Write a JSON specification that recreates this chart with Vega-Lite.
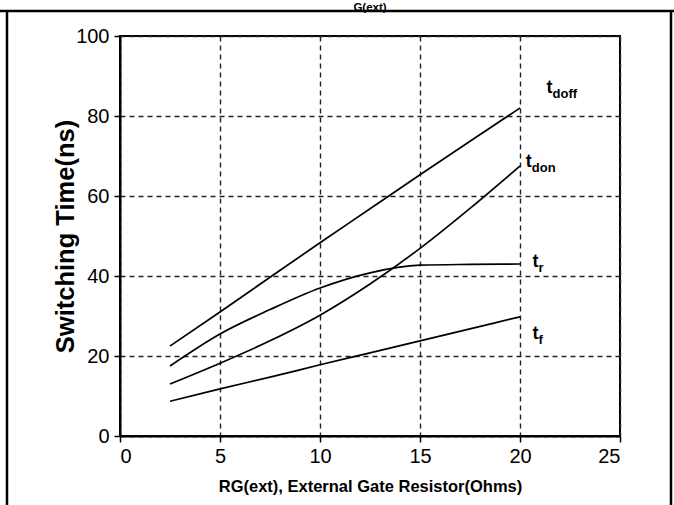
{
  "$schema": "https://vega.github.io/schema/vega-lite/v6.json",
  "width": 500,
  "height": 400,
  "autosize": {"type": "none"},
  "padding": {"left": 120, "top": 36, "right": 54, "bottom": 69},
  "background": "white",
  "title": {
    "text": "G(ext)",
    "anchor": "middle",
    "frame": "group",
    "baseline": "alphabetic",
    "offset": 1,
    "dy": 14,
    "font": "Liberation Sans, Arial",
    "fontSize": 11.5,
    "fontWeight": "bold",
    "color": "black"
  },
  "config": {
    "view": {"stroke": "black", "strokeWidth": 2},
    "axis": {
      "domainColor": "black",
      "domainWidth": 2,
      "tickColor": "black",
      "tickWidth": 1.5,
      "tickSize": 6,
      "grid": true,
      "gridColor": "#222",
      "gridWidth": 1.4,
      "gridDash": [5, 4],
      "labelFont": "Liberation Sans, Arial",
      "labelFontSize": 20,
      "labelColor": "black",
      "titleFont": "Liberation Sans, Arial",
      "titleFontWeight": "bold",
      "titleColor": "black"
    }
  },
  "datasets": {
    "curves": [
      {"series": "t_doff", "rg": 2.5, "t": 22.5},
      {"series": "t_doff", "rg": 5, "t": 31},
      {"series": "t_doff", "rg": 7.5, "t": 39.7},
      {"series": "t_doff", "rg": 10, "t": 48.3},
      {"series": "t_doff", "rg": 12.5, "t": 56.8},
      {"series": "t_doff", "rg": 15, "t": 65.3},
      {"series": "t_doff", "rg": 17.5, "t": 73.7},
      {"series": "t_doff", "rg": 20, "t": 82},
      {"series": "t_don", "rg": 2.5, "t": 13},
      {"series": "t_don", "rg": 5, "t": 18.2},
      {"series": "t_don", "rg": 7.5, "t": 23.8},
      {"series": "t_don", "rg": 10, "t": 30.2},
      {"series": "t_don", "rg": 12.5, "t": 38},
      {"series": "t_don", "rg": 15, "t": 46.9},
      {"series": "t_don", "rg": 17.5, "t": 56.9},
      {"series": "t_don", "rg": 20, "t": 67.5},
      {"series": "t_r", "rg": 2.5, "t": 17.5},
      {"series": "t_r", "rg": 5, "t": 25.5},
      {"series": "t_r", "rg": 7.5, "t": 31.6},
      {"series": "t_r", "rg": 10, "t": 37},
      {"series": "t_r", "rg": 12.5, "t": 40.8},
      {"series": "t_r", "rg": 15, "t": 42.7},
      {"series": "t_r", "rg": 17.5, "t": 42.9},
      {"series": "t_r", "rg": 20, "t": 43},
      {"series": "t_f", "rg": 2.5, "t": 8.7},
      {"series": "t_f", "rg": 5, "t": 11.8},
      {"series": "t_f", "rg": 7.5, "t": 14.7},
      {"series": "t_f", "rg": 10, "t": 17.8},
      {"series": "t_f", "rg": 12.5, "t": 20.8},
      {"series": "t_f", "rg": 15, "t": 23.8},
      {"series": "t_f", "rg": 17.5, "t": 26.8},
      {"series": "t_f", "rg": 20, "t": 29.8}
    ],
    "labels": [
      {"main": "t", "sub": "doff", "rg": 21.33, "t": 85.7},
      {"main": "t", "sub": "don", "rg": 20.29, "t": 67.2},
      {"main": "t", "sub": "r", "rg": 20.62, "t": 42.3},
      {"main": "t", "sub": "f", "rg": 20.62, "t": 24.2}
    ]
  },
  "layer": [
    {
      "data": {"name": "curves"},
      "mark": {"type": "line", "interpolate": "monotone", "color": "black", "strokeWidth": 1.7},
      "encoding": {
        "x": {
          "field": "rg",
          "type": "quantitative",
          "scale": {"domain": [0, 25], "nice": false},
          "axis": {
            "values": [0, 5, 10, 15, 20, 25],
            "title": "RG(ext), External Gate Resistor(Ohms)",
            "titleFontSize": 16.5,
            "labelPadding": 4,
            "titlePadding": 12
          }
        },
        "y": {
          "field": "t",
          "type": "quantitative",
          "scale": {"domain": [0, 100], "nice": false},
          "axis": {
            "values": [0, 20, 40, 60, 80, 100],
            "title": "Switching Time(ns)",
            "titleFontSize": 25.5,
            "labelPadding": 5,
            "titlePadding": -3
          }
        },
        "detail": {"field": "series"}
      }
    },
    {
      "data": {"name": "labels"},
      "mark": {"type": "text", "align": "left", "baseline": "alphabetic", "font": "Liberation Sans, Arial", "fontWeight": "bold", "fontSize": 18, "color": "black"},
      "encoding": {
        "x": {"field": "rg", "type": "quantitative"},
        "y": {"field": "t", "type": "quantitative"},
        "text": {"field": "main"}
      }
    },
    {
      "data": {"name": "labels"},
      "mark": {"type": "text", "align": "left", "baseline": "alphabetic", "dx": 6, "dy": 5, "font": "Liberation Sans, Arial", "fontWeight": "bold", "fontSize": 13, "color": "black"},
      "encoding": {
        "x": {"field": "rg", "type": "quantitative"},
        "y": {"field": "t", "type": "quantitative"},
        "text": {"field": "sub"}
      }
    },
    {
      "data": {"values": [{}]},
      "mark": {"type": "rule", "color": "black", "strokeWidth": 2.5},
      "encoding": {
        "x": {"datum": -6},
        "x2": {"datum": 27.7},
        "y": {"datum": 106.25}
      }
    },
    {
      "data": {"values": [{}]},
      "mark": {"type": "rule", "color": "black", "strokeWidth": 2.5},
      "encoding": {
        "x": {"datum": -5.65},
        "y": {"datum": 106.25},
        "y2": {"datum": -20}
      }
    },
    {
      "data": {"values": [{}]},
      "mark": {"type": "rule", "color": "black", "strokeWidth": 2.5},
      "encoding": {
        "x": {"datum": 27.55},
        "y": {"datum": 106.25},
        "y2": {"datum": -20}
      }
    }
  ]
}
